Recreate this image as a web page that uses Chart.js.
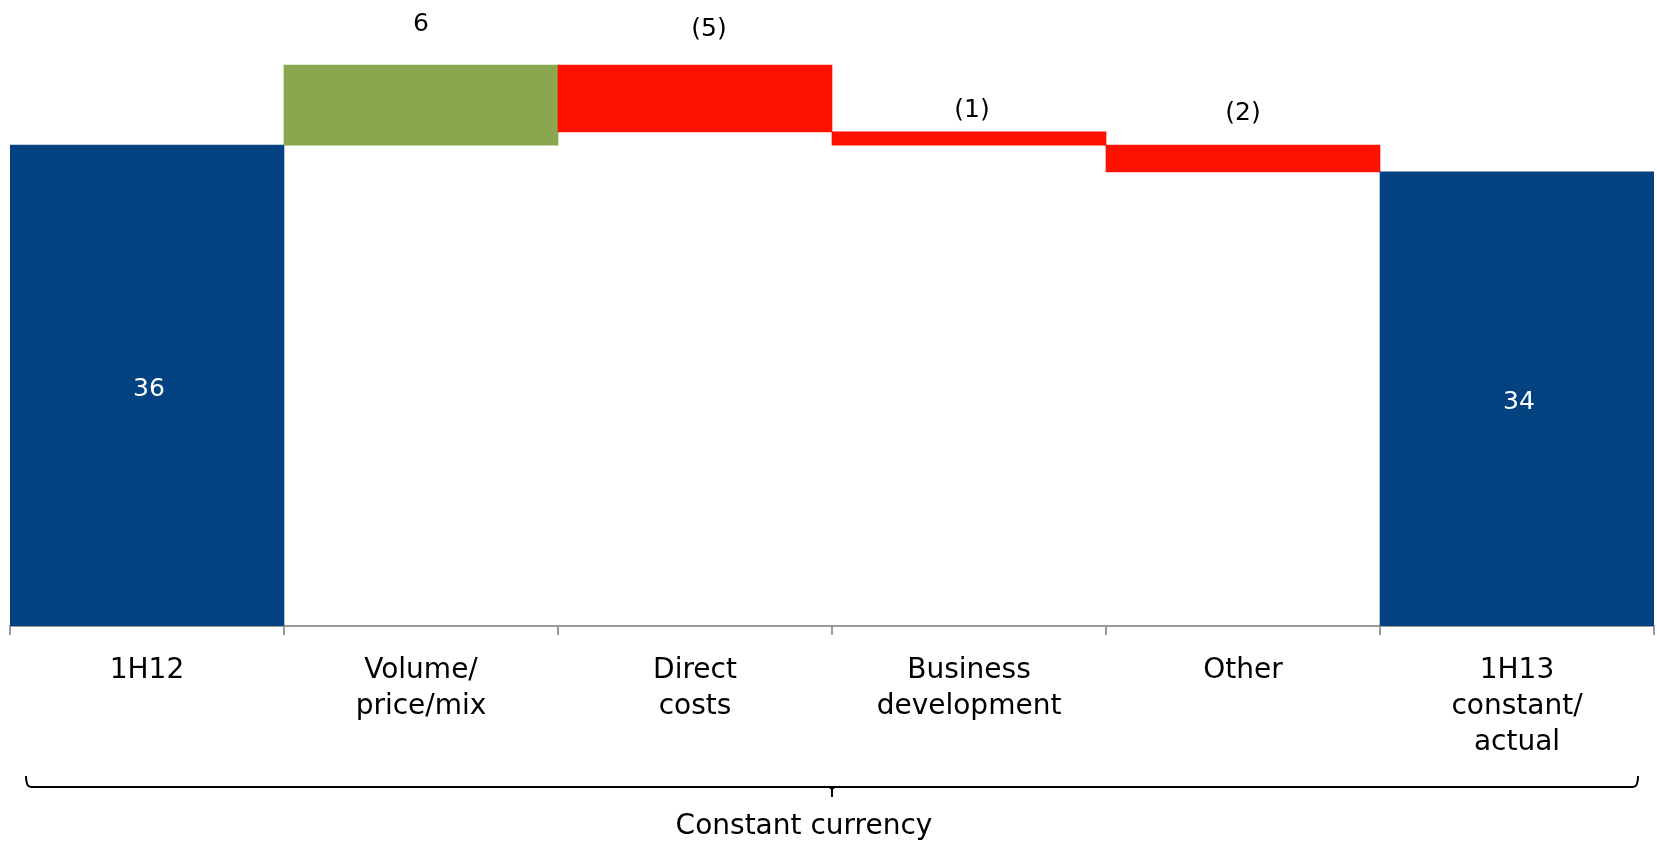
<!DOCTYPE html>
<html>
<head>
<meta charset="utf-8">
<script src="https://cdn.jsdelivr.net/npm/chart.js@4/dist/chart.umd.min.js"></script>
<style>
  body { margin: 0; background: #fff; }
  #wrap { width: 1657px; height: 842px; position: relative; }
</style>
</head>
<body>
<div id="wrap"><canvas id="bridgeChart"></canvas></div>
<script>
// Chart data
const categories = [['1H12'], ['Volume/', 'price/mix'], ['Direct', 'costs'], ['Business', 'development'], ['Other'], ['1H13', 'constant/', 'actual']];
const values = [36, 6, -5, -1, -2, 34];
const isTotal = [true, false, false, false, false, true];
const valueLabels = ['36', '6', '(5)', '(1)', '(2)', '34'];

const BLUE = '#024280';
const GREEN = '#8AA64E';
const RED = '#FF1100';
const FONT = "'DejaVu Sans', sans-serif";

// Build floating bars for the waterfall
let running = 0;
const floatingBars = values.map((v, i) => {
    if (isTotal[i]) {
        running = v;
        return [0, v];
    }
    const start = running;
    running += v;
    return [start, running];
});
const barColors = values.map((v, i) => isTotal[i] ? BLUE : (v >= 0 ? GREEN : RED));

// Label placement tweaks (px)
const labelLift = [0, 41, 36, 21, 32, 0];
const labelShift = [0, 0, 14, 3, 0, 0];

const valueLabelPlugin = {
    id: 'valueLabels',
    afterDatasetsDraw(chart) {
        const ctx = chart.ctx;
        const meta = chart.getDatasetMeta(0);
        ctx.save();
        ctx.textAlign = 'center';
        ctx.textBaseline = 'middle';
        ctx.font = '25px ' + FONT;
        meta.data.forEach((bar, i) => {
            const top = Math.min(bar.y, bar.base);
            const bottom = Math.max(bar.y, bar.base);
            if (isTotal[i]) {
                ctx.fillStyle = '#ffffff';
                ctx.fillText(valueLabels[i], bar.x + 2, (top + bottom) / 2 + 4);
            } else {
                ctx.fillStyle = '#000000';
                ctx.fillText(valueLabels[i], bar.x + labelShift[i], top - labelLift[i]);
            }
        });
        ctx.restore();
    }
};

// Bracket under the axis with "Constant currency"
const bracketPlugin = {
    id: 'bracket',
    afterDraw(chart) {
        const ctx = chart.ctx;
        const area = chart.chartArea;
        const left = area.left + 16;
        const right = area.right - 16;
        const mid = (area.left + area.right) / 2;
        const y = 787;
        ctx.save();
        ctx.strokeStyle = '#000';
        ctx.lineWidth = 2;
        ctx.beginPath();
        ctx.moveTo(left, y - 11);
        ctx.quadraticCurveTo(left, y, left + 5, y);
        ctx.lineTo(right - 5, y);
        ctx.quadraticCurveTo(right, y, right, y - 11);
        ctx.moveTo(mid - 3, y);
        ctx.lineTo(mid, y + 2);
        ctx.lineTo(mid, y + 10);
        ctx.moveTo(mid + 3, y);
        ctx.lineTo(mid, y + 2);
        ctx.stroke();
        ctx.fillStyle = '#000';
        ctx.font = '28px ' + FONT;
        ctx.textAlign = 'center';
        ctx.textBaseline = 'middle';
        ctx.fillText('Constant currency', mid - 28, 827);
        ctx.restore();
    }
};

const bridgeChart = new Chart(document.getElementById('bridgeChart'), {
    type: 'bar',
    data: {
        labels: categories,
        datasets: [{
            data: floatingBars,
            backgroundColor: barColors,
            borderWidth: 0,
            barPercentage: 1.0,
            categoryPercentage: 1.0
        }]
    },
    options: {
        responsive: true,
        maintainAspectRatio: false,
        animation: false,
        layout: {
            padding: { top: 25, left: 10, right: 3, bottom: 0 }
        },
        plugins: {
            legend: { display: false },
            tooltip: { enabled: false }
        },
        scales: {
            x: {
                grid: {
                    offset: true,
                    drawOnChartArea: false,
                    drawTicks: true,
                    tickLength: 9,
                    color: '#9a9a9a',
                    lineWidth: 2
                },
                border: { display: true, color: '#9a9a9a', width: 2 },
                ticks: {
                    color: '#000',
                    padding: 18,
                    maxRotation: 0,
                    autoSkip: false,
                    font: { family: FONT, size: 28, lineHeight: 1.28 }
                },
                afterFit(scale) {
                    scale.height = 216;
                }
            },
            y: {
                display: false,
                min: 0,
                max: 45
            }
        }
    },
    plugins: [valueLabelPlugin, bracketPlugin]
});
</script>
</body>
</html>
